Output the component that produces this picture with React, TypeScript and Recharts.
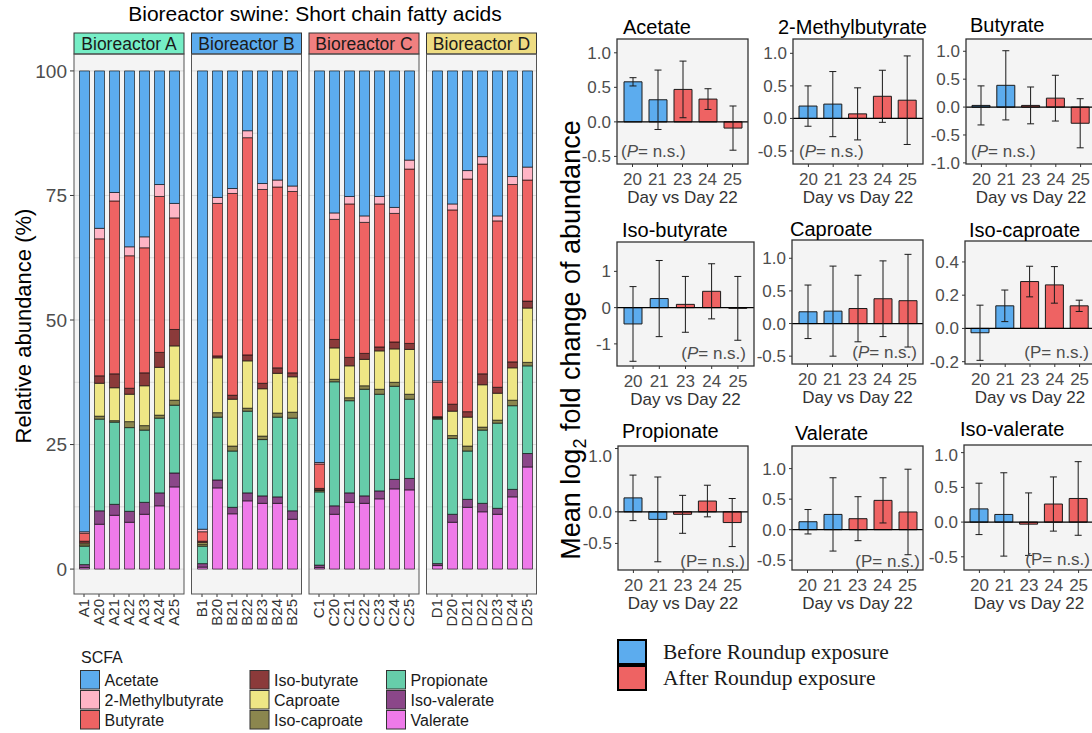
import React from 'react';
import {
  BarChart,
  Bar,
  XAxis,
  YAxis,
  CartesianGrid,
  ReferenceLine,
  ErrorBar,
  Cell
} from 'recharts';

// ---- stacked composition (relative abundance, %) ----
const REACTORS = ['A', 'B', 'C', 'D'];
const SAMPLES = [
  'A1', 'A20', 'A21', 'A22', 'A23', 'A24', 'A25',
  'B1', 'B20', 'B21', 'B22', 'B23', 'B24', 'B25',
  'C1', 'C20', 'C21', 'C22', 'C23', 'C24', 'C25',
  'D1', 'D20', 'D21', 'D22', 'D23', 'D24', 'D25'
];

const ACETATE = [92.5, 31.6, 24.4, 35.3, 33.3, 22.8, 26.6, 92.0, 25.4, 23.6, 12.0, 22.6, 21.9, 23.1, 78.6, 28.5, 25.2, 29.1, 25.2, 27.4, 17.9, 62.2, 26.7, 20.0, 17.2, 29.1, 21.2, 19.3];
const METHYLBUTYRATE = [0.3, 2.1, 1.7, 1.8, 2.2, 2.4, 2.9, 0.5, 1.2, 1.0, 1.4, 1.2, 1.4, 1.1, 0.3, 1.3, 1.5, 1.3, 1.5, 1.2, 1.8, 0.3, 1.2, 1.7, 1.5, 1.0, 1.6, 2.6];
const BUTYRATE = [1.6, 27.5, 34.7, 26.6, 25.1, 31.3, 22.4, 1.9, 30.6, 40.5, 43.6, 38.9, 36.3, 36.4, 4.9, 24.1, 30.8, 26.3, 28.7, 25.8, 35.0, 6.9, 39.0, 46.7, 42.1, 33.4, 35.6, 24.3];
const ISOBUTYRATE = [0.4, 1.5, 2.8, 1.2, 2.6, 3.0, 3.3, 0.3, 0.4, 0.8, 1.2, 1.1, 1.1, 0.8, 0.3, 1.7, 1.7, 1.2, 0.8, 1.4, 1.2, 0.2, 1.4, 1.1, 2.2, 1.2, 1.2, 1.4];
const CAPROATE = [0.3, 6.6, 6.6, 5.5, 8.0, 9.6, 10.9, 0.3, 11.0, 9.4, 9.5, 9.5, 8.0, 7.1, 0.1, 6.3, 6.4, 5.3, 7.7, 6.7, 9.0, 0.1, 4.9, 5.8, 8.5, 5.4, 6.5, 10.9];
const ISOCAPROATE = [0.3, 0.6, 0.3, 1.2, 0.9, 0.6, 1.0, 0.4, 0.9, 1.0, 0.6, 0.7, 0.8, 1.2, 0.3, 0.5, 0.6, 0.7, 1.0, 0.8, 1.0, 0.2, 0.6, 1.0, 0.6, 0.6, 1.1, 0.7];
const PROPIONATE = [3.7, 18.4, 16.5, 16.8, 14.5, 15.0, 13.6, 3.5, 12.6, 11.3, 16.4, 11.3, 16.0, 18.6, 14.7, 24.9, 18.5, 21.4, 19.4, 18.7, 15.9, 29.0, 15.2, 9.7, 14.7, 17.1, 16.8, 17.6];
const ISOVALERATE = [0.6, 2.7, 2.2, 2.2, 2.4, 2.6, 2.8, 0.7, 1.6, 1.3, 1.6, 1.5, 1.3, 1.7, 0.5, 1.7, 1.9, 1.5, 1.6, 1.9, 2.3, 0.4, 1.6, 1.6, 1.7, 1.2, 1.5, 2.7];
const VALERATE = [0.3, 9.0, 10.8, 9.4, 11.0, 12.7, 16.5, 0.4, 16.3, 11.1, 13.7, 13.2, 13.2, 10.0, 0.3, 11.0, 13.4, 13.2, 14.1, 16.1, 15.9, 0.7, 9.4, 12.4, 11.5, 11.0, 14.5, 20.5];

// legend order (top of stack first)
const SCFA = ['Acetate', '2-Methylbutyrate', 'Butyrate', 'Iso-butyrate', 'Caproate', 'Iso-caproate', 'Propionate', 'Iso-valerate', 'Valerate'];
const SCFA_VALUES = [ACETATE, METHYLBUTYRATE, BUTYRATE, ISOBUTYRATE, CAPROATE, ISOCAPROATE, PROPIONATE, ISOVALERATE, VALERATE];
const SCFA_COLORS = ['#5CACEE', '#FFB5C5', '#EE6363', '#8B3A3A', '#EEE685', '#8B864E', '#66CDAA', '#8B4789', '#EE7AE9'];
const STRIP_COLORS = ['#76EEC6', '#5CACEE', '#F08080', '#EEDC82'];

// ---- log2 fold change vs day 22 ----
const DAYS = ['20', '21', '23', '24', '25'];
const PHASE = ['before', 'before', 'after', 'after', 'after'];

const ACETATE_FC = [0.58, 0.32, 0.47, 0.33, -0.09];
const ACETATE_SE = [0.06, 0.43, 0.41, 0.15, 0.32];
const METHYLBUTYRATE_FC = [0.19, 0.22, 0.07, 0.34, 0.28];
const METHYLBUTYRATE_SE = [0.31, 0.5, 0.4, 0.4, 0.68];
const BUTYRATE_FC = [0.03, 0.39, 0.03, 0.16, -0.29];
const BUTYRATE_SE = [0.35, 0.62, 0.33, 0.41, 0.44];
const ISOBUTYRATE_FC = [-0.45, 0.25, 0.09, 0.45, -0.02];
const ISOBUTYRATE_SE = [1.03, 1.05, 0.77, 0.76, 0.88];
const CAPROATE_FC = [0.18, 0.19, 0.23, 0.38, 0.35];
const CAPROATE_SE = [0.41, 0.69, 0.51, 0.58, 0.71];
const ISOCAPROATE_FC = [-0.026, 0.136, 0.282, 0.262, 0.136];
const ISOCAPROATE_SE = [0.166, 0.095, 0.092, 0.11, 0.034];
const PROPIONATE_FC = [0.22, -0.12, -0.04, 0.17, -0.17];
const PROPIONATE_SE = [0.36, 0.67, 0.3, 0.25, 0.38];
const VALERATE_FC = [0.13, 0.25, 0.18, 0.48, 0.29];
const VALERATE_SE = [0.2, 0.6, 0.36, 0.37, 0.7];
const ISOVALERATE_FC = [0.19, 0.11, -0.03, 0.26, 0.34];
const ISOVALERATE_SE = [0.37, 0.6, 0.45, 0.39, 0.53];

const BEFORE = '#5CACEE';
const AFTER = '#EE6363';

const FONT = '"Liberation Sans", Arial, sans-serif';
const SERIF = '"Liberation Serif", serif';
const TICK_GREY = '#4d4d4d';

// facet geometry
const FACET_LEFT = [74, 191.5, 309, 426.5];
const FACET_W = 110;
const PANEL_TOP = 54;
const PANEL_H = 540;
const STRIP_TOP = 33;
const GRID_VALUES = [0, 12.5, 25, 37.5, 50, 62.5, 75, 87.5, 100];
const STACK_ORDER = [8, 7, 6, 5, 4, 3, 2, 1, 0];

const half = [-0.5, 0, 0.5, 1];
const dec1 = (v: number) => v.toFixed(1);
const int0 = (v: number) => String(v);

const PANELS = [
  { name: 'Acetate', fc: ACETATE_FC, se: ACETATE_SE, box: [617, 39, 131, 125], domain: [-0.61, 1.2], ticks: half, fmt: dec1, title: [623, 34], p: [621, 157, 'start', true] },
  { name: '2-Methylbutyrate', fc: METHYLBUTYRATE_FC, se: METHYLBUTYRATE_SE, box: [793, 39, 130, 125], domain: [-0.7, 1.22], ticks: half, fmt: dec1, title: [778, 34], p: [799, 157, 'start', true] },
  { name: 'Butyrate', fc: BUTYRATE_FC, se: BUTYRATE_SE, box: [966, 39, 130, 125], domain: [-1.02, 1.22], ticks: [-1, -0.5, 0, 0.5, 1], fmt: dec1, title: [970, 32], p: [971, 157, 'start', true] },
  { name: 'Iso-butyrate', fc: ISOBUTYRATE_FC, se: ISOBUTYRATE_SE, box: [617, 242, 137, 124], domain: [-1.61, 1.81], ticks: [-1, 0, 1], fmt: int0, title: [622, 237], p: [746, 359, 'end', true] },
  { name: 'Caproate', fc: CAPROATE_FC, se: CAPROATE_SE, box: [792, 240, 131, 124], domain: [-0.62, 1.28], ticks: half, fmt: dec1, title: [790, 236], p: [917, 358, 'end', true] },
  { name: 'Iso-caproate', fc: ISOCAPROATE_FC, se: ISOCAPROATE_SE, box: [965, 241, 130, 123], domain: [-0.214, 0.526], ticks: [-0.2, 0, 0.2, 0.4], fmt: dec1, title: [969, 237], p: [1089, 358, 'end', false] },
  { name: 'Propionate', fc: PROPIONATE_FC, se: PROPIONATE_SE, box: [618, 446, 130, 124], domain: [-0.92, 1.04], ticks: half, fmt: dec1, title: [622, 438], p: [745, 567, 'end', false] },
  { name: 'Valerate', fc: VALERATE_FC, se: VALERATE_SE, box: [792, 446, 131, 124], domain: [-0.66, 1.37], ticks: half, fmt: dec1, title: [795, 440], p: [920, 567, 'end', false] },
  { name: 'Iso-valerate', fc: ISOVALERATE_FC, se: ISOVALERATE_SE, box: [964, 445, 130, 125], domain: [-0.69, 1.11], ticks: half, fmt: dec1, title: [960, 436], p: [1090, 565, 'end', false] }
];

const facetRows = (idx: number) =>
  SAMPLES.slice(idx * 7, idx * 7 + 7).map((s, j) => {
    const row: Record<string, string | number> = { sample: s };
    SCFA.forEach((name, k) => {
      row[name] = SCFA_VALUES[k][idx * 7 + j];
    });
    return row;
  });

const SampleTick = ({ x, y, payload }: any) => (
  <text
    x={x}
    y={y}
    transform={`rotate(-90 ${x} ${y})`}
    textAnchor="end"
    dy="0.35em"
    fontSize={15}
    fontFamily={FONT}
    fill="#333"
  >
    {payload.value}
  </text>
);

const Facet = ({ idx }: { idx: number }) => {
  const showY = idx === 0;
  const yw = showY ? 50 : 0;
  const data = facetRows(idx);
  return (
    <div style={{ position: 'absolute', left: FACET_LEFT[idx] - yw, top: PANEL_TOP }}>
      <BarChart
        width={FACET_W + yw}
        height={PANEL_H + 40}
        data={data}
        margin={{ top: 0, right: 0, bottom: 0, left: 0 }}
        barSize={10}
      >
        <CartesianGrid fill="#f4f4f4" stroke="#d9d9d9" vertical={false} horizontalValues={GRID_VALUES} />
        <XAxis
          dataKey="sample"
          interval={0}
          padding={{ left: 2.5, right: 2.5 }}
          axisLine={false}
          tickLine={{ stroke: '#333' }}
          tickSize={3}
          tickMargin={2}
          height={40}
          tick={SampleTick}
        />
        <YAxis
          hide={!showY}
          width={yw}
          type="number"
          domain={[-5, 103.4]}
          ticks={[0, 25, 50, 75, 100]}
          allowDataOverflow
          axisLine={false}
          tickLine={{ stroke: '#333' }}
          tickSize={4}
          tickMargin={3}
          tick={{ fontSize: 19, fill: TICK_GREY, fontFamily: FONT }}
        />
        {STACK_ORDER.map((k) => (
          <Bar
            key={SCFA[k]}
            dataKey={SCFA[k]}
            stackId="scfa"
            fill={SCFA_COLORS[k]}
            stroke="#000"
            strokeWidth={0.6}
            isAnimationActive={false}
          />
        ))}
      </BarChart>
    </div>
  );
};

const FoldPanel = ({ cfg }: { cfg: any }) => {
  const yw = 46;
  const xh = 30;
  const [left, top, w, h] = cfg.box;
  const data = DAYS.map((d, i) => ({ day: d, fc: cfg.fc[i], se: cfg.se[i], phase: PHASE[i] }));
  return (
    <div style={{ position: 'absolute', left: left - yw, top }}>
      <BarChart width={w + yw} height={h + xh} data={data} margin={{ top: 0, right: 0, bottom: 0, left: 0 }}>
        <CartesianGrid fill="#f4f4f4" horizontal={false} vertical={false} />
        <XAxis
          dataKey="day"
          interval={0}
          padding={{ left: 3, right: 3 }}
          axisLine={false}
          tickLine={{ stroke: '#333' }}
          tickSize={3}
          tickMargin={6}
          height={xh}
          tick={{ fontSize: 17, fill: TICK_GREY, fontFamily: FONT }}
        />
        <YAxis
          width={yw}
          type="number"
          domain={cfg.domain}
          ticks={cfg.ticks}
          allowDataOverflow
          axisLine={false}
          tickLine={{ stroke: '#333' }}
          tickSize={3}
          tickMargin={3}
          tickFormatter={cfg.fmt}
          tick={{ fontSize: 17, fill: TICK_GREY, fontFamily: FONT }}
        />
        <ReferenceLine y={0} stroke="#000" strokeWidth={1.2} />
        <Bar dataKey="fc" barSize={18} stroke="#1a1a1a" strokeWidth={1} isAnimationActive={false}>
          {data.map((r, i) => (
            <Cell key={i} fill={r.phase === 'before' ? BEFORE : AFTER} />
          ))}
          <ErrorBar dataKey="se" width={3.5} stroke="#1a1a1a" strokeWidth={1} isAnimationActive={false} />
        </Bar>
      </BarChart>
    </div>
  );
};

const LEGEND_COLS = [80, 249.5, 386];

const Overlay = () => (
  <svg width={1092} height={733} style={{ position: 'absolute', left: 0, top: 0, pointerEvents: 'none' }} fontFamily={FONT}>
    <text x={315} y={21} textAnchor="middle" fontSize={21} fill="#000">
      Bioreactor swine: Short chain fatty acids
    </text>

    {REACTORS.map((r, i) => (
      <g key={r}>
        <rect x={FACET_LEFT[i]} y={STRIP_TOP} width={FACET_W} height={PANEL_TOP - STRIP_TOP} fill={STRIP_COLORS[i]} stroke="#333" strokeWidth={1} />
        <text x={FACET_LEFT[i] + FACET_W / 2} y={50} textAnchor="middle" fontSize={17.5} fill="#1a1a1a">
          Bioreactor {r}
        </text>
        <rect x={FACET_LEFT[i]} y={PANEL_TOP} width={FACET_W} height={PANEL_H} fill="none" stroke="#555" strokeWidth={1} />
      </g>
    ))}

    <text x={31} y={326} transform="rotate(-90 31 326)" textAnchor="middle" fontSize={22} fill="#000">
      Relative abundance (%)
    </text>

    <text x={81} y={663} fontSize={16} fill="#1a1a1a">SCFA</text>
    {SCFA.map((name, k) => {
      const col = Math.floor(k / 3);
      const row = k % 3;
      const x = LEGEND_COLS[col];
      const y = 670 + row * 20;
      return (
        <g key={name}>
          <rect x={x} y={y} width={20} height={19.5} fill="#f4f4f4" stroke="none" />
          <rect x={x + 0.5} y={y + 0.5} width={19} height={18.5} fill={SCFA_COLORS[k]} stroke="#333" strokeWidth={1} />
          <text x={x + 24.5} y={y + 16} fontSize={16} fill="#1a1a1a">{name}</text>
        </g>
      );
    })}

    {PANELS.map((cfg) => {
      const [left, top, w, h] = cfg.box;
      const [px, py, anchor, italic] = cfg.p as [number, number, string, boolean];
      return (
        <g key={cfg.name}>
          <rect x={left} y={top} width={w} height={h} fill="none" stroke="#333" strokeWidth={1.3} />
          <text x={cfg.title[0]} y={cfg.title[1]} fontSize={20} fill="#000">{cfg.name}</text>
          <text x={px} y={py} textAnchor={anchor as any} fontSize={17} fill={TICK_GREY}>
            (<tspan fontStyle={italic ? 'italic' : 'normal'}>P</tspan>= n.s.)
          </text>
          <text x={left + w / 2} y={top + h + 39} textAnchor="middle" fontSize={17} fill="#333">
            Day vs Day 22
          </text>
        </g>
      );
    })}

    <text x={580} y={340} transform="rotate(-90 580 340)" textAnchor="middle" fontSize={27} fill="#000">
      Mean log<tspan fontSize={18} dy={6}>2</tspan><tspan dy={-6}> fold change of abundance</tspan>
    </text>

    <rect x={618} y={640} width={28} height={24} fill={BEFORE} stroke="#000" strokeWidth={2} />
    <rect x={618} y={666} width={28} height={24} fill={AFTER} stroke="#000" strokeWidth={2} />
    <text x={663} y={659} fontSize={21.5} fontFamily={SERIF} fill="#1a1a1a">Before Roundup exposure</text>
    <text x={663} y={685} fontSize={21.5} fontFamily={SERIF} fill="#1a1a1a">After Roundup exposure</text>
  </svg>
);

export default function App() {
  return (
    <div style={{ position: 'absolute', left: 0, top: 0, width: 1092, height: 733, overflow: 'hidden', background: '#fff', fontFamily: FONT }}>
      {REACTORS.map((r, i) => (
        <Facet key={r} idx={i} />
      ))}
      {PANELS.map((cfg) => (
        <FoldPanel key={cfg.name} cfg={cfg} />
      ))}
      <Overlay />
    </div>
  );
}
